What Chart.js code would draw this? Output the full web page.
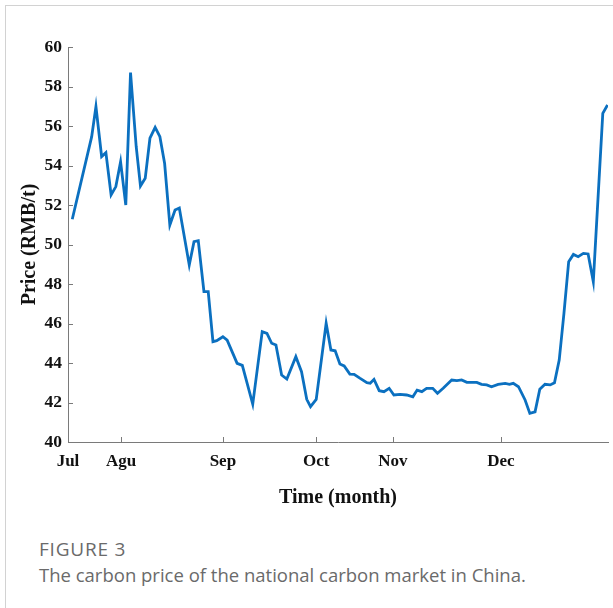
<!DOCTYPE html>
<html>
<head>
<meta charset="utf-8">
<script src="https://cdn.jsdelivr.net/npm/chart.js@4.4.1/dist/chart.umd.min.js"></script>
<style>
  html, body { margin: 0; padding: 0; background: #fff; }
  body { width: 613px; height: 608px; position: relative; overflow: hidden; }
  #frame { position: absolute; left: 5px; top: 5px; width: 640px; height: 640px;
           border-top: 1.5px solid #d2d2d2; border-left: 1.5px solid #d2d2d2; }
  #wrap { position: absolute; left: 0; top: 0; width: 613px; height: 520px; }
  .cap { position: absolute; left: 39px; font-family: "Open Sans", sans-serif;
         color: #6a6a6a; white-space: nowrap; }
  #fig { top: 536px; font-size: 19px; font-weight: 500; letter-spacing: 0.8px; }
  #desc { top: 562px; font-size: 18.5px; }
</style>
</head>
<body>
<div id="frame"></div>
<div id="wrap"><canvas id="chart"></canvas></div>
<div class="cap" id="fig">FIGURE 3</div>
<div class="cap" id="desc">The carbon price of the national carbon market in China.</div>
<script>
// trading-day position of each vertex and the price read there
const tradeDay = [
    0.9, 5.0, 5.9, 7.1, 8.0, 9.1, 10.1, 11.1, 12.2, 13.2,
    14.4, 15.3, 16.3, 17.3, 18.4, 19.4, 20.4, 21.5, 22.6, 23.5,
    25.6, 26.6, 27.5, 28.7, 29.6, 30.6, 31.4, 32.7, 33.6, 34.8,
    35.7, 36.8, 39.0, 41.0, 42.0, 43.0, 43.9, 45.1, 46.2, 48.1,
    49.3, 50.4, 51.2, 52.4, 54.5, 55.5, 56.4, 57.4, 58.3, 59.5,
    60.4, 61.6, 63.1, 63.8, 64.6, 65.7, 66.7, 67.8, 68.8, 70.1,
    71.5, 72.8, 73.7, 74.7, 75.7, 77.0, 78.0, 79.2, 81.0, 82.1,
    83.1, 84.2, 86.3, 87.3, 88.4, 89.4, 90.8, 92.3, 93.2, 94.0,
    95.1, 96.5, 97.5, 98.6, 99.6, 100.7, 101.8, 102.7, 103.7, 104.7,
    105.7, 106.7, 107.7, 108.8, 109.8, 110.9, 112.9, 113.9
];
const price = [
    51.28, 55.46, 56.98, 54.45, 54.65, 52.51, 52.93, 54.19, 52.00, 58.70,
    54.95, 52.96, 53.35, 55.38, 55.93, 55.46, 54.10, 50.99, 51.75, 51.85,
    48.96, 50.14, 50.19, 47.61, 47.61, 45.08, 45.13, 45.33, 45.16, 44.49,
    43.98, 43.88, 41.92, 45.59, 45.50, 45.00, 44.91, 43.39, 43.19, 44.32,
    43.56, 42.16, 41.79, 42.16, 46.01, 44.66, 44.62, 43.95, 43.85, 43.44,
    43.43, 43.23, 43.00, 42.97, 43.17, 42.60, 42.55, 42.72, 42.38, 42.41,
    42.38, 42.29, 42.63, 42.55, 42.72, 42.72, 42.47, 42.72, 43.14, 43.11,
    43.14, 43.02, 43.02, 42.92, 42.89, 42.80, 42.92, 42.97, 42.92, 42.97,
    42.80, 42.13, 41.45, 41.53, 42.67, 42.92, 42.89, 43.00, 44.15, 46.51,
    49.13, 49.50, 49.38, 49.55, 49.52, 48.12, 56.64, 57.06
];
const monthLabels = ['Jul', 'Agu', 'Sep', 'Oct', 'Nov', 'Dec'];
const monthPos = [0, 11.2, 32.7, 52.4, 68.6, 91.4];
const yTickValues = [40, 42, 44, 46, 48, 50, 52, 54, 56, 58, 60];

const axisColor = '#7a7a7a';
const serifBold = { family: '"Liberation Serif", "Times New Roman", serif', weight: 'bold' };

// short tick marks pointing into the plot, like the original figure
const innerTicks = {
    id: 'innerTicks',
    afterDraw(chart) {
        const { ctx, chartArea: a, scales: { x, y } } = chart;
        ctx.save();
        ctx.strokeStyle = axisColor;
        ctx.lineWidth = 1;
        ctx.beginPath();
        yTickValues.forEach(v => {
            const py = Math.round(y.getPixelForValue(v)) + 0.5;
            ctx.moveTo(a.left, py);
            ctx.lineTo(a.left + 5, py);
        });
        monthPos.forEach(v => {
            const px = Math.round(x.getPixelForValue(v)) + 0.5;
            ctx.moveTo(px, a.bottom);
            ctx.lineTo(px, a.bottom - 5);
        });
        ctx.stroke();
        ctx.restore();
    }
};

const ctx = document.getElementById('chart').getContext('2d');
new Chart(ctx, {
    type: 'line',
    data: {
        datasets: [{
            data: tradeDay.map((d, i) => ({ x: d, y: price[i] })),
            borderColor: '#0b70c0',
            borderWidth: 2.8,
            pointRadius: 0,
            tension: 0,
            fill: false
        }]
    },
    options: {
        responsive: true,
        maintainAspectRatio: false,
        animation: false,
        layout: { padding: { top: 47, right: 5, left: 0, bottom: 0 } },
        plugins: { legend: { display: false }, tooltip: { enabled: false } },
        scales: {
            x: {
                type: 'linear',
                min: 0,
                max: 114,
                afterFit: s => { s.height = 78; },
                afterBuildTicks: s => { s.ticks = monthPos.map(v => ({ value: v })); },
                grid: { display: false, drawTicks: false },
                border: { display: true, color: axisColor, width: 1 },
                ticks: {
                    autoSkip: false,
                    maxRotation: 0,
                    padding: 9,
                    color: '#111',
                    font: { ...serifBold, size: 17 },
                    callback: v => monthLabels[monthPos.indexOf(v)]
                },
                title: {
                    display: true,
                    text: 'Time (month)',
                    color: '#111',
                    font: { ...serifBold, size: 20 },
                    padding: { top: 0, bottom: 10 }
                }
            },
            y: {
                min: 40,
                max: 60,
                afterFit: s => { s.width = 68; },
                afterBuildTicks: s => { s.ticks = yTickValues.map(v => ({ value: v })); },
                grid: { display: false, drawTicks: false },
                border: { display: true, color: axisColor, width: 1 },
                ticks: {
                    padding: 6,
                    color: '#111',
                    font: { ...serifBold, size: 17.5 }
                },
                title: {
                    display: true,
                    text: 'Price (RMB/t)',
                    color: '#111',
                    font: { ...serifBold, size: 20 },
                    padding: { top: 18, bottom: 0 }
                }
            }
        }
    },
    plugins: [innerTicks]
});
</script>
</body>
</html>
